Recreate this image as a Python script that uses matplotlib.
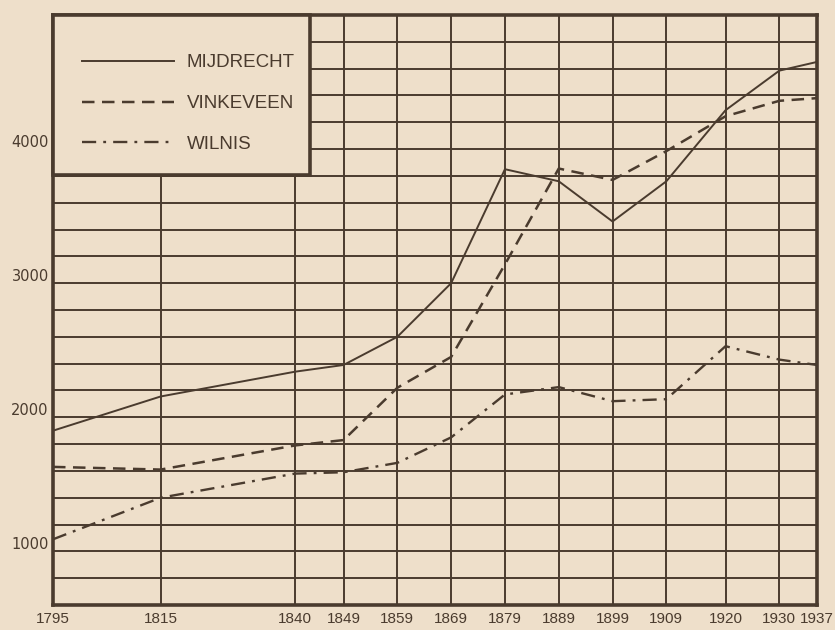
import matplotlib
matplotlib.use("Agg")
import matplotlib.pyplot as plt
from matplotlib.patches import Rectangle
from matplotlib.transforms import ScaledTranslation

years = [1795, 1815, 1840, 1849, 1859, 1869, 1879, 1889, 1899, 1909, 1920, 1930, 1937]
mijdrecht = [1900, 2155, 2340, 2390, 2600, 3000, 3850, 3760, 3460, 3760, 4290, 4585, 4650]
vinkeveen = [1630, 1610, 1790, 1830, 2220, 2450, 3140, 3855, 3770, 3985, 4245, 4360, 4380]
wilnis = [1090, 1400, 1580, 1590, 1660, 1850, 2170, 2225, 2120, 2135, 2530, 2430, 2390]
series_names = ["MIJDRECHT", "VINKEVEEN", "WILNIS"]
ytick_vals = [1000, 2000, 3000, 4000]
ygrid_vals = list(range(800, 5000, 200))

BG = "#EEDFCA"
INK = "#4A3B2E"
FONT = ["Liberation Sans", "DejaVu Sans"]

fig = plt.figure(figsize=(8.35, 6.3), dpi=100, facecolor=BG)
ax = fig.add_axes([53/835, 25/630, 764/835, 590/630], facecolor=BG)

ax.set_xlim(1795, 1937)
ax.set_ylim(600, 5000)

# grid
ax.set_xticks(years)
ax.set_yticks(ytick_vals)
ax.set_yticks(ygrid_vals, minor=True)
ax.tick_params(which="both", length=0)
ax.grid(True, which="both", color=INK, linewidth=1.4)
ax.set_axisbelow(True)

for s in ax.spines.values():
    s.set_color(INK)
    s.set_linewidth(2.6)

ax.set_xticklabels([str(y) for y in years], family=FONT, fontsize=11, color=INK)
ax.tick_params(axis="x", pad=5)
ax.set_yticklabels([str(v) for v in ytick_vals], family=["DejaVu Sans"], fontsize=10.5, color=INK)
ax.tick_params(axis="y", pad=3)
off = ScaledTranslation(0, 8/100, fig.dpi_scale_trans)
for lab in ax.get_yticklabels():
    lab.set_transform(lab.get_transform() + off)

lw = 1.4
l1, = ax.plot(years, mijdrecht, color=INK, lw=lw, linestyle="-", zorder=3)
l2, = ax.plot(years, vinkeveen, color=INK, lw=lw + 0.4, linestyle=(0, (5, 3)), zorder=3)
l3, = ax.plot(years, wilnis, color=INK, lw=lw + 0.3, linestyle=(0, (6, 3, 1.2, 3)), zorder=3)

# legend box
rect = Rectangle((0, 430/590), 257/764, 160/590, transform=ax.transAxes,
                 facecolor=BG, edgecolor=INK, linewidth=2.6, zorder=4, clip_on=False)
ax.add_patch(rect)
leg = ax.legend([l1, l2, l3], series_names, loc="upper left",
                bbox_to_anchor=(29/764, (605 - 54)/590), frameon=False,
                borderpad=0, borderaxespad=0, handlelength=4.9, handletextpad=0.7,
                labelspacing=1.27, prop={"family": FONT, "size": 13.5})
leg.set_zorder(5)
for t in leg.get_texts():
    t.set_color(INK)

fig.savefig("out.png", dpi=100, facecolor=BG)
